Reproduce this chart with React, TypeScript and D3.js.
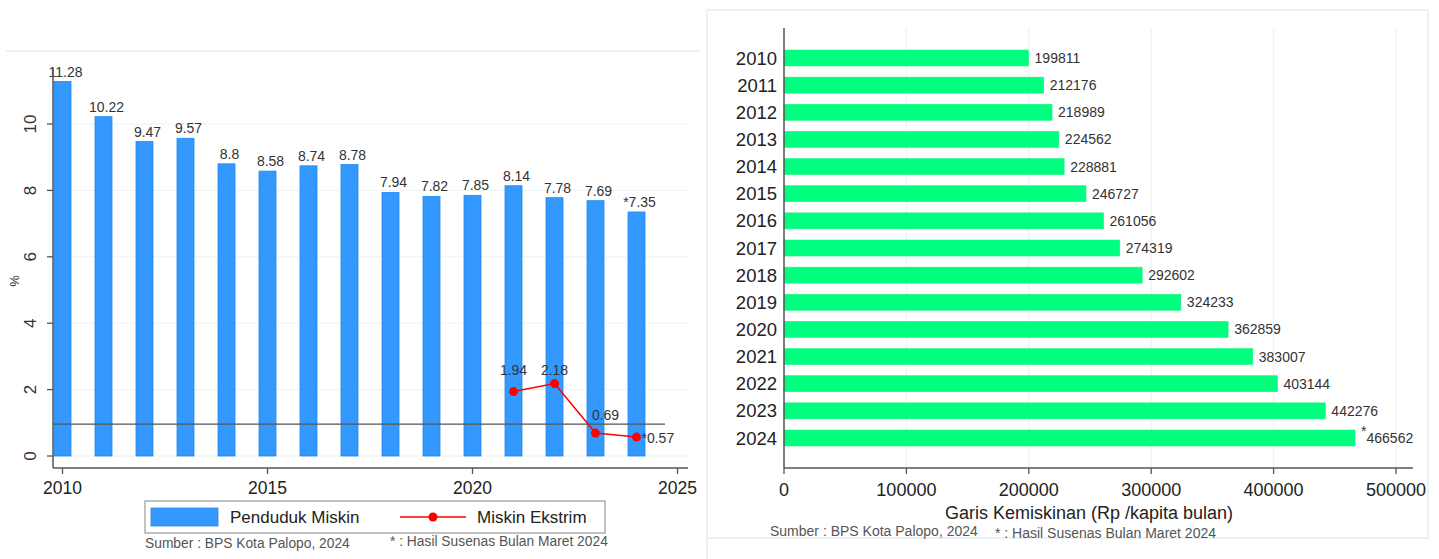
import React from "react";
import * as d3 from "d3";

// ---------- data ----------
const years = [2010, 2011, 2012, 2013, 2014, 2015, 2016, 2017, 2018, 2019, 2020, 2021, 2022, 2023, 2024];
const pendudukMiskin = [11.28, 10.22, 9.47, 9.57, 8.8, 8.58, 8.74, 8.78, 7.94, 7.82, 7.85, 8.14, 7.78, 7.69, 7.35];
const pendudukLabels = ["11.28", "10.22", "9.47", "9.57", "8.8", "8.58", "8.74", "8.78", "7.94", "7.82", "7.85", "8.14", "7.78", "7.69", "*7.35"];
const ekstrimYears = [2021, 2022, 2023, 2024];
const miskinEkstrim = [1.94, 2.18, 0.69, 0.57];
const ekstrimLabels = ["1.94", "2.18", "0.69", "*0.57"];
const referenceLine = 0.96;
const leftYTicks = [0, 2, 4, 6, 8, 10];
const leftXTicks = [2010, 2015, 2020, 2025];

const garisKemiskinan = [199811, 212176, 218989, 224562, 228881, 246727, 261056, 274319, 292602, 324233, 362859, 383007, 403144, 442276, 466562];
const rightXTicks = [0, 100000, 200000, 300000, 400000, 500000];

const FONT = "'Liberation Sans', Arial, Helvetica, sans-serif";

export default function App() {
  // ---------- left chart scales ----------
  const xL = d3.scaleLinear().domain([2010, 2025]).range([62.5, 677.5]);
  const yL = d3.scaleLinear().domain([0, 10]).range([456, 124]);
  const barW = 17;
  const lineGen = d3
    .line<number>()
    .x((_, i) => xL(ekstrimYears[i]))
    .y((d) => yL(d));

  // ---------- right chart scales ----------
  const xR = d3.scaleLinear().domain([0, 500000]).range([784, 1396]);
  const yR = d3
    .scalePoint<number>()
    .domain(years)
    .range([58, 438]);
  const barH = 16;

  const exLabelPos = [
    { dx: 0, dy: -17, anchor: "middle" },
    { dx: 0, dy: -9, anchor: "middle" },
    { dx: 10, dy: -13, anchor: "middle" },
    { dx: 5, dy: 6, anchor: "start" },
  ];

  return (
    <svg
      width={1439}
      height={559}
      style={{ position: "absolute", left: 0, top: 0, background: "#fff" }}
      fontFamily={FONT}
    >
      {/* ================= LEFT CHART ================= */}
      <line x1={6} x2={700} y1={51} y2={51} stroke="#e6eded" strokeWidth={1.5} />
      {leftYTicks.map((t) => (
        <line key={"g" + t} x1={53} x2={688} y1={yL(t)} y2={yL(t)} stroke="#edf2f2" strokeWidth={1} />
      ))}
      {pendudukMiskin.map((v, i) => (
        <rect
          key={"b" + i}
          x={xL(years[i]) - barW / 2}
          y={yL(v)}
          width={barW}
          height={yL(0) - yL(v)}
          fill="#3399ff"
          stroke="#1e88f0"
          strokeWidth={0.8}
        />
      ))}
      {pendudukMiskin.map((v, i) => (
        <text
          key={"bl" + i}
          x={xL(years[i]) + 3}
          y={yL(v) - 5}
          textAnchor="middle"
          fontSize={14}
          fill="#333"
        >
          {pendudukLabels[i]}
        </text>
      ))}
      <line x1={53} x2={665} y1={yL(referenceLine)} y2={yL(referenceLine)} stroke="#555" strokeWidth={1.3} />
      <path d={lineGen(miskinEkstrim) || ""} fill="none" stroke="#ff0000" strokeWidth={1.5} />
      {miskinEkstrim.map((v, i) => (
        <circle key={"c" + i} cx={xL(ekstrimYears[i])} cy={yL(v)} r={4.5} fill="#ff0000" />
      ))}
      {miskinEkstrim.map((v, i) => (
        <text
          key={"cl" + i}
          x={xL(ekstrimYears[i]) + exLabelPos[i].dx}
          y={yL(v) + exLabelPos[i].dy}
          textAnchor={exLabelPos[i].anchor as any}
          fontSize={14}
          fill="#333"
        >
          {ekstrimLabels[i]}
        </text>
      ))}
      <line x1={53} x2={53} y1={68} y2={468} stroke="#555" strokeWidth={1.5} />
      <line x1={53} x2={688} y1={468} y2={468} stroke="#555" strokeWidth={1.5} />
      {leftYTicks.map((t) => (
        <g key={"yt" + t}>
          <line x1={47} x2={53} y1={yL(t)} y2={yL(t)} stroke="#555" strokeWidth={1.3} />
          <text
            transform={`translate(36,${yL(t)}) rotate(-90)`}
            textAnchor="middle"
            fontSize={17}
            fill="#333"
          >
            {t}
          </text>
        </g>
      ))}
      {leftXTicks.map((t) => (
        <g key={"xt" + t}>
          <line x1={xL(t)} x2={xL(t)} y1={468} y2={474} stroke="#555" strokeWidth={1.3} />
          <text x={xL(t)} y={494} textAnchor="middle" fontSize={17.5} fill="#222">
            {t}
          </text>
        </g>
      ))}
      <text transform="translate(19,281) rotate(-90)" textAnchor="middle" fontSize={13} fill="#333">
        %
      </text>
      {/* legend */}
      <rect x={145} y={501} width={460} height={32} fill="#fff" stroke="#999" strokeWidth={1.2} />
      <rect x={151} y={508} width={67} height={18} fill="#3399ff" stroke="#1e88f0" strokeWidth={0.8} />
      <text x={230} y={523} fontSize={17} fill="#222">
        Penduduk Miskin
      </text>
      <line x1={400} x2={466} y1={517} y2={517} stroke="#ff0000" strokeWidth={1.5} />
      <circle cx={433} cy={517} r={4.5} fill="#ff0000" />
      <text x={477} y={523} fontSize={17} fill="#222">
        Miskin Ekstrim
      </text>
      <text x={145} y={548} fontSize={13.8} fill="#555">
        Sumber : BPS Kota Palopo, 2024
      </text>
      <text x={390} y={546} fontSize={13.8} fill="#555">
        * : Hasil Susenas Bulan Maret 2024
      </text>

      {/* ================= RIGHT CHART ================= */}
      <rect x={707} y={10} width={721} height={528} fill="none" stroke="#e6eded" strokeWidth={1.5} />
      <line x1={707} x2={707} y1={538} y2={559} stroke="#e6eded" strokeWidth={1.5} />
      {rightXTicks.map((t) => (
        <line key={"rg" + t} x1={xR(t)} x2={xR(t)} y1={28} y2={468} stroke="#edf2f2" strokeWidth={1.2} />
      ))}
      {garisKemiskinan.map((v, i) => (
        <rect
          key={"rb" + i}
          x={xR(0)}
          y={(yR(years[i]) as number) - barH / 2}
          width={xR(v) - xR(0)}
          height={barH}
          fill="#00ff7f"
          stroke="#20f080"
          strokeWidth={0.6}
        />
      ))}
      {garisKemiskinan.map((v, i) => (
        <text
          key={"rl" + i}
          x={xR(v) + 6}
          y={(yR(years[i]) as number) + 5}
          fontSize={14}
          fill="#333"
        >
          {i === garisKemiskinan.length - 1 ? (
            <>
              <tspan dy={-7}>*</tspan>
              <tspan dy={7}>{v}</tspan>
            </>
          ) : (
            v
          )}
        </text>
      ))}
      {years.map((y) => (
        <text
          key={"ry" + y}
          x={777}
          y={(yR(y) as number) + 6.5}
          textAnchor="end"
          fontSize={18.5}
          fill="#222"
        >
          {y}
        </text>
      ))}
      <line x1={784} x2={784} y1={28} y2={468} stroke="#555" strokeWidth={1.5} />
      <line x1={784} x2={1413} y1={468} y2={468} stroke="#555" strokeWidth={1.5} />
      {rightXTicks.map((t) => (
        <g key={"rxt" + t}>
          <line x1={xR(t)} x2={xR(t)} y1={468} y2={474} stroke="#555" strokeWidth={1.3} />
          <text x={xR(t)} y={496} textAnchor="middle" fontSize={18} fill="#222">
            {t}
          </text>
        </g>
      ))}
      <text x={1089} y={519} textAnchor="middle" fontSize={18} fill="#222">
        Garis Kemiskinan (Rp /kapita bulan)
      </text>
      <text x={770} y={536} fontSize={14} fill="#555">
        Sumber : BPS Kota Palopo, 2024
      </text>
      <text x={995} y={538} fontSize={14} fill="#555">
        * : Hasil Susenas Bulan Maret 2024
      </text>
    </svg>
  );
}
